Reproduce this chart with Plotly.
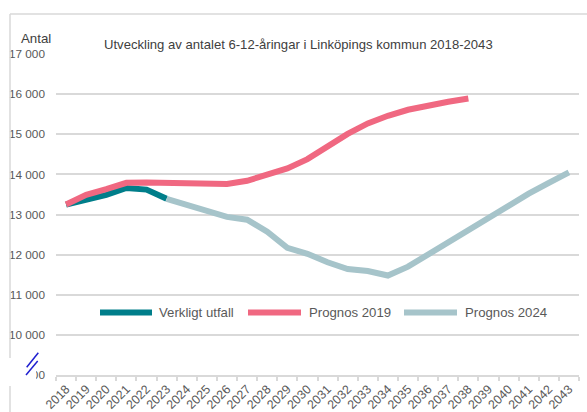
import plotly.graph_objects as go

years = [str(y) for y in range(2018, 2044)]

actual_years = [str(y) for y in range(2018, 2024)]
actual = [13250, 13370, 13490, 13660, 13620, 13390]

p2019_years = [str(y) for y in range(2018, 2039)]
p2019 = [13250, 13490, 13630, 13790, 13800, 13790, 13780, 13740, 13760, 13840,
         13980, 14150, 14380, 14690, 15010, 15270, 15460, 15610, 15720, 15810, 15890]

p2024_years = [str(y) for y in range(2023, 2044)]
p2024 = [13390, 13240, 13110, 12940, 12870, 12570, 12170, 12020, 11810, 11640,
         11590, 11480, 11700, 12010, 12320, 12620, 12920, 13220, 13520, 13790, 14050]

ytick_vals = list(range(9000, 17001, 1000))
ytick_text = ["9 000", "10 000", "11 000", "12 000", "13 000", "14 000", "15 000", "16 000", "17 000"]

series_names = ["Verkligt utfall", "Prognos 2019", "Prognos 2024"]
colors = ["rgb(0,126,138)", "rgb(240,104,129)", "rgb(166,196,202)"]

title_text = "Utveckling av antalet 6-12-åringar i Linköpings kommun 2018-2043"

W, H = 587, 412
ML, MR, MT, MB = 56, 8, 54, 37
PW = W - ML - MR
PH = H - MT - MB

def px(x):
    return (x - ML) / PW

def py(y):
    return (H - MB - y) / PH

FONT = "Liberation Sans, Arial, sans-serif"
NARROW = "Liberation Sans Narrow, Arial Narrow, Liberation Sans, sans-serif"

fig = go.Figure()
for xs, ys, name, col in [(actual_years, actual, series_names[0], colors[0]),
                          (p2019_years, p2019, series_names[1], colors[1]),
                          (p2024_years, p2024, series_names[2], colors[2])]:
    fig.add_trace(go.Scatter(x=xs, y=ys, name=name, mode="lines",
                             line=dict(color=col, width=6), showlegend=False,
                             hoverinfo="skip"))

shapes = []
# outer frame
shapes.append(dict(type="line", xref="paper", yref="paper", x0=px(10), x1=px(587), y0=py(14), y1=py(14),
                   line=dict(color="#D9D9D9", width=1.5), layer="above"))
shapes.append(dict(type="line", xref="paper", yref="paper", x0=px(10), x1=px(10), y0=py(14), y1=py(412),
                   line=dict(color="#D9D9D9", width=1.5), layer="above"))
# axis-break mask and symbol
shapes.append(dict(type="rect", xref="paper", yref="paper", x0=px(2), x1=px(36), y0=py(358), y1=py(386),
                   fillcolor="white", line=dict(width=0), layer="above"))
shapes.append(dict(type="line", xref="paper", yref="paper", x0=px(26.7), x1=px(38.3), y0=py(367.3), y1=py(352.7),
                   line=dict(color="#1F1FD0", width=1.5), layer="above"))
shapes.append(dict(type="line", xref="paper", yref="paper", x0=px(26), x1=px(37.7), y0=py(375), y1=py(361),
                   line=dict(color="#1F1FD0", width=1.5), layer="above"))

annotations = []
# legend (manual)
leg_y = 312.5
leg_items = [(100, 152, 157), (248, 301, 307), (404, 457, 463)]
for (s0, s1, tx), name, col in zip(leg_items, series_names, colors):
    shapes.append(dict(type="line", xref="paper", yref="paper", x0=px(s0), x1=px(s1), y0=py(leg_y), y1=py(leg_y),
                       line=dict(color=col, width=6), layer="above"))
    annotations.append(dict(text=name, xref="paper", yref="paper", x=px(tx), y=py(leg_y),
                            xanchor="left", yanchor="middle", showarrow=False,
                            font=dict(family=FONT, size=13.2, color="#595959")))

annotations.append(dict(text=title_text, xref="paper", yref="paper", x=px(102), y=py(44),
                        xanchor="left", yanchor="middle", showarrow=False,
                        font=dict(family=FONT, size=13.1, color="#404040")))
annotations.append(dict(text="Antal", xref="paper", yref="paper", x=px(36), y=py(38),
                        xanchor="center", yanchor="middle", showarrow=False,
                        font=dict(family=FONT, size=13.3, color="#404040")))

fig.update_layout(
    width=W, height=H,
    margin=dict(l=ML, r=MR, t=MT, b=MB, autoexpand=False),
    paper_bgcolor="white", plot_bgcolor="white",
    font=dict(family=FONT, size=11, color="#595959"),
    showlegend=False,
    shapes=shapes,
    annotations=annotations,
    xaxis=dict(type="category", categoryorder="array", categoryarray=years,
               range=[-0.5, len(years) - 0.5], tickson="boundaries",
               ticks="outside", ticklen=4, tickcolor="#D9D9D9", tickwidth=1.5,
               showline=True, linecolor="#D9D9D9", linewidth=2,
               showgrid=False, tickangle=-45, automargin=False,
               tickfont=dict(family=FONT, size=12.5, color="#595959"),
               tickvals=years, ticktext=years),
    yaxis=dict(range=[9000, 17000], tickvals=ytick_vals, ticktext=ytick_text,
               showgrid=True, gridcolor="#D9D9D9", gridwidth=1.5, zeroline=False,
               showline=False, ticks="", ticklabelstandoff=10, automargin=False,
               tickfont=dict(family=NARROW, size=11.8, color="#595959")),
)

fig.write_html("out.html", config={"displayModeBar": False},
               post_script="document.body.style.margin='0';document.body.style.overflow='hidden';")
